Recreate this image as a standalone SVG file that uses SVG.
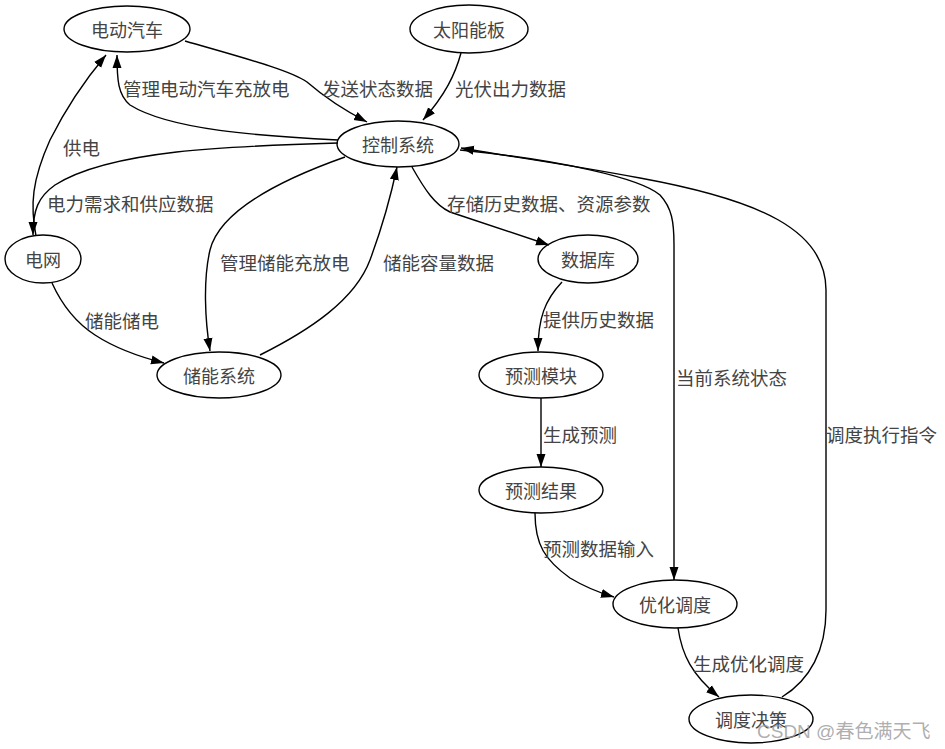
<svg xmlns="http://www.w3.org/2000/svg" width="945" height="749" viewBox="0 0 945 749">
<style>
.node ellipse{fill:none;stroke:#000;stroke-width:1.4}
.node text{font-family:"Noto Sans CJK SC","Liberation Sans",sans-serif;font-size:18px;fill:#444;text-anchor:middle;dominant-baseline:central}
.edges path{fill:none;stroke:#000;stroke-width:1.4;marker-end:url(#arr)}
.lbl{font-family:"Noto Sans CJK SC","Liberation Sans",sans-serif;font-size:18.5px;fill:#444;dominant-baseline:central}
.wm{font-family:"Liberation Sans","Noto Sans CJK SC",sans-serif;font-size:19px;fill:#999;fill-opacity:0.8;dominant-baseline:central}
</style>
<defs>
<marker id="arr" markerUnits="userSpaceOnUse" markerWidth="14" markerHeight="10" refX="13" refY="5" orient="auto" viewBox="0 0 14 10">
<path d="M0,0.5 L13,5 L0,9.5 z" fill="#000"/>
</marker>
</defs>
<rect width="945" height="749" fill="#fff"/>
<g class="edges" id="edges">
<path d="M185,41 C240,57 290,70 307,82 C322,95 340,108 367,122"/>
<path d="M338,140 C260,136 170,130 130,105 C118,95 117,80 117,55"/>
<path d="M461,53 C455,75 445,95 423,120"/>
<path d="M338,143 C230,146 110,150 55,185 C38,197 33,210 33,235"/>
<path d="M36,236 C30,205 32,180 50,140 C65,110 85,80 106,55"/>
<path d="M52,283 C62,305 75,322 95,335 C115,348 140,357 164,363"/>
<path d="M345,157 C280,180 220,210 210,250 C203,280 205,320 210,351"/>
<path d="M260,355 C310,330 355,300 370,260 C383,225 390,200 397,167"/>
<path d="M412,167 C425,190 435,205 450,212 L549,245"/>
<path d="M562,282 C545,300 538,318 538,351"/>
<path d="M541,398 L541,467"/>
<path d="M535,513 C535,545 545,560 570,578 C585,587 600,593 614,597"/>
<path d="M460,150 C560,160 640,178 660,195 C672,208 674,222 674,245 L674,580"/>
<path d="M678,628 C682,655 692,675 719,697"/>
<path d="M782,697 C810,680 826,650 826,610 L826,290 C826,230 760,200 640,178 C560,163 500,155 461,148"/>
</g>
<g class="labels">
<text class="lbl" x="322" y="88">发送状态数据</text>
<text class="lbl" x="123" y="88">管理电动汽车充放电</text>
<text class="lbl" x="455" y="88">光伏出力数据</text>
<text class="lbl" x="63" y="147">供电</text>
<text class="lbl" x="47" y="203">电力需求和供应数据</text>
<text class="lbl" x="447" y="203">存储历史数据、资源参数</text>
<text class="lbl" x="220" y="262">管理储能充放电</text>
<text class="lbl" x="383" y="262">储能容量数据</text>
<text class="lbl" x="85" y="320">储能储电</text>
<text class="lbl" x="543" y="319">提供历史数据</text>
<text class="lbl" x="676" y="377">当前系统状态</text>
<text class="lbl" x="543" y="434">生成预测</text>
<text class="lbl" x="826" y="434">调度执行指令</text>
<text class="lbl" x="543" y="548">预测数据输入</text>
<text class="lbl" x="693" y="663">生成优化调度</text>
</g>
<g class="node" id="n-ev"><ellipse cx="127" cy="29" rx="63" ry="23"/><text x="127" y="29">电动汽车</text></g>
<g class="node" id="n-solar"><ellipse cx="469" cy="29" rx="59" ry="24"/><text x="469" y="29">太阳能板</text></g>
<g class="node" id="n-ctrl"><ellipse cx="398" cy="144" rx="61" ry="23"/><text x="398" y="144">控制系统</text></g>
<g class="node" id="n-grid"><ellipse cx="43" cy="259" rx="38" ry="24"/><text x="43" y="259">电网</text></g>
<g class="node" id="n-storage"><ellipse cx="219" cy="375" rx="62" ry="23"/><text x="219" y="375">储能系统</text></g>
<g class="node" id="n-db"><ellipse cx="588" cy="259" rx="50" ry="24"/><text x="588" y="259">数据库</text></g>
<g class="node" id="n-pred"><ellipse cx="541" cy="375" rx="62" ry="23"/><text x="541" y="375">预测模块</text></g>
<g class="node" id="n-result"><ellipse cx="541" cy="490" rx="62" ry="23"/><text x="541" y="490">预测结果</text></g>
<g class="node" id="n-opt"><ellipse cx="675" cy="604" rx="62" ry="24"/><text x="675" y="604">优化调度</text></g>
<g class="node" id="n-dec"><ellipse cx="751" cy="719" rx="62" ry="24"/><text x="751" y="719">调度决策</text></g>
<text class="wm" x="757" y="731">CSDN @春色满天飞</text>
</svg>
